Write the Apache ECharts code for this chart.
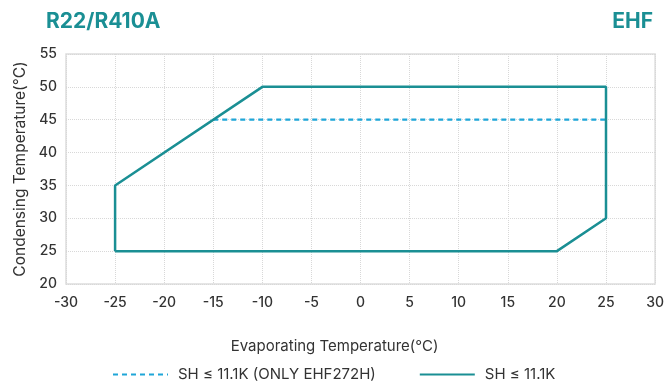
<!DOCTYPE html>
<html><head><meta charset="utf-8">
<script src="https://cdn.jsdelivr.net/npm/echarts@6/dist/echarts.min.js"></script>
<style>html,body{margin:0;padding:0;background:#fff}#c{width:667px;height:389px}</style>
</head><body><div id="c"></div>
<script>
const xTicks = [-30,-25,-20,-15,-10,-5,0,5,10,15,20,25,30];
const yTicks = [20,25,30,35,40,45,50,55];
const envelopeX = [-25,-25,-10,25,25,20,-25];
const envelopeY = [25,35,50,50,30,25,25];
const dashedX = [-15,25];
const dashedY = [45,45];
const nameDashed = 'SH ≤ 11.1K (ONLY EHF272H)';
const nameSolid = 'SH ≤ 11.1K';
const teal = '#1a8f94';
const blue = '#1fa6d8';
const font = 'Inter, "Noto Sans", sans-serif';
const chart = echarts.init(document.getElementById('c'));
chart.setOption({
  animation:false,
  title:[
    {text:'R22/R410A', left:41, top:6, textStyle:{color:teal,fontSize:21,fontWeight:'bold',fontFamily:font}},
    {text:'EHF', right:9, top:6, textStyle:{color:teal,fontSize:21,fontWeight:'bold',fontFamily:font}}
  ],
  grid:{left:66,right:10,top:54,bottom:105,show:true,borderColor:'#dddddd',borderWidth:1.5},
  legend:{bottom:2,left:107,itemGap:43,itemWidth:55,itemHeight:12,
    itemStyle:{opacity:0},
    textStyle:{fontSize:15,color:'#333',fontFamily:font,padding:[0,0,0,5]},
    data:[nameDashed, nameSolid]},
  xAxis:{type:'value',min:-30,max:30,interval:5,
    name:'Evaporating Temperature(°C)',nameLocation:'middle',nameGap:55,
    nameTextStyle:{fontSize:15,color:'#333',fontFamily:font,padding:[0,52,0,0]},
    axisLine:{show:false},axisTick:{show:false},
    axisLabel:{color:'#333',fontSize:14,margin:12,fontFamily:font,fontWeight:500},
    splitLine:{show:true,lineStyle:{color:'#d8d8d8',type:'dotted'}}},
  yAxis:{type:'value',min:20,max:55,interval:5,
    name:'Condensing Temperature(°C)',nameLocation:'middle',nameGap:38,
    nameTextStyle:{fontSize:15.5,color:'#333',fontFamily:font},
    axisLine:{show:false},axisTick:{show:false},
    axisLabel:{color:'#333',fontSize:14,margin:9,fontFamily:font,fontWeight:500},
    splitLine:{show:true,lineStyle:{color:'#d8d8d8',type:'dotted'}}},
  series:[
    {name:nameDashed,type:'line',symbol:'none',data:dashedX.map((x,i)=>[x,dashedY[i]]),
      lineStyle:{color:blue,width:2.2,type:[5,4]},itemStyle:{color:blue}},
    {name:nameSolid,type:'line',symbol:'none',data:envelopeX.map((x,i)=>[x,envelopeY[i]]),
      lineStyle:{color:teal,width:2.5},itemStyle:{color:teal}}
  ]
});
</script></body></html>
